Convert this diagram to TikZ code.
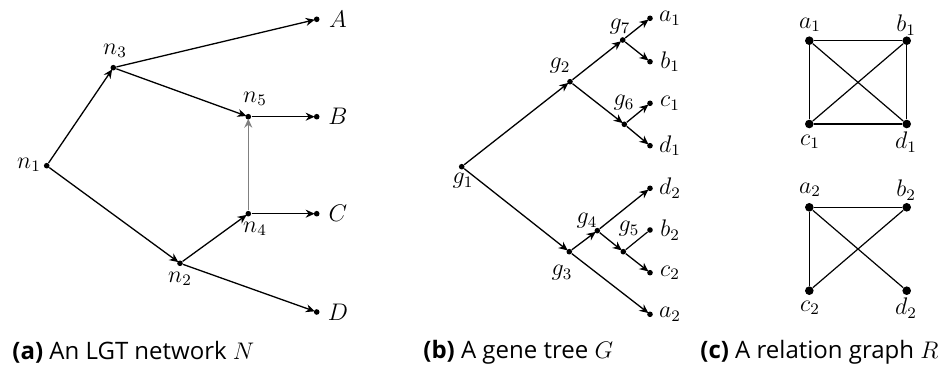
\documentclass[tikz,border=0pt]{standalone}
\usepackage{fontspec}
\setsansfont{Open Sans}
\usetikzlibrary{arrows.meta}

\tikzset{
  dot/.style={circle,fill=black,inner sep=0pt,minimum size=2.8pt},
  bigdot/.style={circle,fill=black,inner sep=0pt,minimum size=4.3pt},
  arc/.style={-{Stealth[length=4.5pt,width=4pt]},line width=0.65pt,shorten >=-0.6pt},
  edge/.style={line width=0.6pt},
  lab/.style={inner sep=0pt,font=\fontsize{12}{14}\selectfont},
  capt/.style={font=\sffamily\fontsize{12}{14}\selectfont,anchor=west,inner sep=0pt}
}

\begin{document}
\begin{tikzpicture}[x=0.5pt,y=-0.5pt]
        \useasboundingbox (0,0) rectangle (949,374);

        \node[dot] (n1) at (46.7,165.7) {};
        \node[dot] (n3) at (113.3,67.7) {};
        \node[dot] (n2) at (180,263.3) {};
        \node[dot] (n5) at (248.3,116.7) {};
        \node[dot] (n4) at (248.3,213.7) {};
        \node[dot] (A) at (316.7,19.3) {};
        \node[dot] (B) at (316.7,116.7) {};
        \node[dot] (C) at (316.7,213.7) {};
        \node[dot] (D) at (316.7,312) {};

        \node[lab] (ln1) at (29,165) {$n_1$};
        \node[lab] (ln3) at (115,51) {$n_3$};
        \node[lab] (ln5) at (255,99) {$n_5$};
        \node[lab] (ln4) at (255,229) {$n_4$};
        \node[lab] (ln2) at (180,279) {$n_2$};
        \node[lab] (lA) at (338,19.3) {$A$};
        \node[lab] (lB) at (338,116.7) {$B$};
        \node[lab] (lC) at (338,213.7) {$C$};
        \node[lab] (lD) at (338,312) {$D$};

        \draw[arc] (n1) -- (n3);
        \draw[arc] (n1) -- (n2);
        \draw[arc] (n3) -- (A);
        \draw[arc] (n3) -- (n5);
        \draw[arc] (n2) -- (n4);
        \draw[arc] (n2) -- (D);
        \draw[arc] (n5) -- (B);
        \draw[arc] (n4) -- (C);
        \draw[arc,gray] (n4) -- (n5);

        \node[dot] (g1) at (461.7,166.7) {};
        \node[dot] (g2) at (570,81.7) {};
        \node[dot] (g3) at (569.3,251.7) {};
        \node[dot] (g7) at (622.7,40) {};
        \node[dot] (g6) at (624.3,124.3) {};
        \node[dot] (g4) at (597.3,230.7) {};
        \node[dot] (g5) at (623.3,251.7) {};
        \node[dot] (a1) at (650,18.3) {};
        \node[dot] (b1) at (650,61.7) {};
        \node[dot] (c1) at (650,103.3) {};
        \node[dot] (d1) at (650,145.7) {};
        \node[dot] (d2) at (650,188.3) {};
        \node[dot] (b2) at (650,230) {};
        \node[dot] (c2) at (650,272.7) {};
        \node[dot] (a2) at (650,314.3) {};

        \node[lab] (lg1) at (463,181) {$g_1$};
        \node[lab] (lg2) at (560,66) {$g_2$};
        \node[lab] (lg3) at (562,273) {$g_3$};
        \node[lab] (lg4) at (587,221) {$g_4$};
        \node[lab] (lg5) at (629,229) {$g_5$};
        \node[lab] (lg6) at (624,103) {$g_6$};
        \node[lab] (lg7) at (620,27) {$g_7$};
        \node[lab] (la1) at (670,18.3) {$a_1$};
        \node[lab] (lb1) at (670,61.7) {$b_1$};
        \node[lab] (lc1) at (670,103.3) {$c_1$};
        \node[lab] (ld1) at (670,145.7) {$d_1$};
        \node[lab] (ld2) at (670,188.3) {$d_2$};
        \node[lab] (lb2) at (670,230) {$b_2$};
        \node[lab] (lc2) at (670,272.7) {$c_2$};
        \node[lab] (la2) at (670,314.3) {$a_2$};

        \draw[arc] (g1) -- (g2);
        \draw[arc] (g1) -- (g3);
        \draw[arc] (g2) -- (g7);
        \draw[arc] (g2) -- (g6);
        \draw[arc] (g7) -- (a1);
        \draw[arc] (g7) -- (b1);
        \draw[arc] (g6) -- (c1);
        \draw[arc] (g6) -- (d1);
        \draw[arc] (g3) -- (g4);
        \draw[arc] (g3) -- (a2);
        \draw[arc] (g4) -- (d2);
        \draw[arc] (g4) -- (g5);
        \draw[edge] (g5) -- (b2);
        \draw[arc] (g5) -- (c2);

        \node[bigdot] (ra1) at (809.3,40.7) {};
        \node[bigdot] (rb1) at (906.7,40.7) {};
        \node[bigdot] (rc1) at (809.3,124) {};
        \node[bigdot] (rd1) at (906.7,124) {};
        \node[bigdot] (ra2) at (809.3,207.3) {};
        \node[bigdot] (rb2) at (906.7,207.3) {};
        \node[bigdot] (rc2) at (809.3,290.7) {};
        \node[bigdot] (rd2) at (906.7,290.7) {};

        \node[lab] (lra1) at (810,25) {$a_1$};
        \node[lab] (lrb1) at (906,25) {$b_1$};
        \node[lab] (lrc1) at (810,142) {$c_1$};
        \node[lab] (lrd1) at (906,142) {$d_1$};
        \node[lab] (lra2) at (810,190) {$a_2$};
        \node[lab] (lrb2) at (906,190) {$b_2$};
        \node[lab] (lrc2) at (810,308) {$c_2$};
        \node[lab] (lrd2) at (906,308) {$d_2$};

        \draw[edge] (ra1) -- (rb1);
        \draw[edge] (ra1) -- (rc1);
        \draw[edge] (ra1) -- (rd1);
        \draw[edge] (rb1) -- (rc1);
        \draw[edge] (rb1) -- (rd1);
        \draw[edge] (rc1) -- (rd1);
        \draw[edge] (ra2) -- (rb2);
        \draw[edge] (ra2) -- (rc2);
        \draw[edge] (ra2) -- (rd2);
        \draw[edge] (rc2) -- (rb2);

        \node[capt] (capa) at (12,352) {\textbf{(a)} An LGT network $N$};
        \node[capt] (capb) at (423,352) {\textbf{(b)} A gene tree $G$};
        \node[capt] (capc) at (700,352) {\textbf{(c)} A relation graph $R$};
    \end{tikzpicture}
\end{document}
